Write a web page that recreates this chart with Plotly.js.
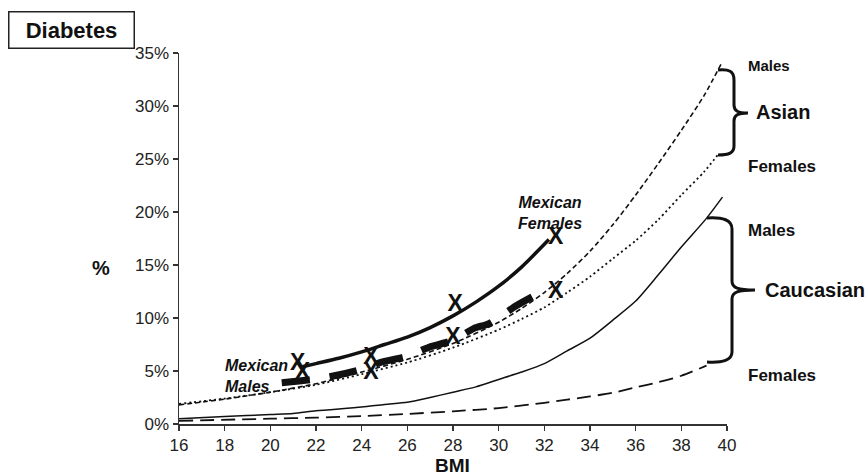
<!DOCTYPE html>
<html>
<head>
<meta charset="utf-8">
<script src="https://cdn.plot.ly/plotly-3.0.1.min.js"></script>
<style>
  html, body { margin: 0; padding: 0; background: #fff; }
  #chart { width: 868px; height: 476px; }
</style>
</head>
<body>
<div id="chart"></div>
<script>
// Diabetes prevalence (%) by BMI, by ethnic group and sex
var bmiTicks = [16, 18, 20, 22, 24, 26, 28, 30, 32, 34, 36, 38, 40];

var asianMaleBmi = [16, 18, 20, 22, 24, 26, 28, 30, 31, 32, 33, 34, 35, 36, 37, 38, 39, 39.8];
var asianMalePct = [1.8, 2.35, 3.0, 3.8, 4.9, 6.1, 7.6, 9.6, 10.9, 12.4, 14.2, 16.3, 18.8, 21.6, 24.6, 27.7, 31.0, 34.2];

var asianFemaleBmi = [16, 18, 20, 22, 24, 26, 28, 30, 31, 32, 33, 34, 35, 36, 37, 38, 39, 39.6];
var asianFemalePct = [1.9, 2.4, 3.0, 3.7, 4.7, 5.8, 7.2, 8.9, 9.9, 11.0, 12.4, 13.9, 15.6, 17.3, 19.3, 21.6, 23.8, 25.4];

var caucMaleBmi = [16, 18, 20, 21, 22, 24, 25, 26, 27, 28, 29, 30, 31, 32, 33, 34, 35, 36, 37, 38, 39.1, 39.8];
var caucMalePct = [0.5, 0.7, 0.9, 1.0, 1.25, 1.6, 1.85, 2.05, 2.5, 3.0, 3.5, 4.2, 4.9, 5.7, 6.9, 8.1, 9.8, 11.6, 14.1, 16.7, 19.4, 21.4];

var caucFemaleBmi = [16, 20, 22, 24, 26, 28, 30, 32, 33, 34, 35, 36, 37, 38, 39.1];
var caucFemalePct = [0.3, 0.5, 0.6, 0.75, 0.95, 1.2, 1.5, 2.0, 2.3, 2.6, 2.95, 3.45, 3.95, 4.55, 5.5];

var mexFemaleBmi = [21.4, 22, 23, 24, 25, 26, 27, 28, 29, 30, 31, 32.2];
var mexFemalePct = [5.4, 5.7, 6.2, 6.8, 7.5, 8.2, 9.1, 10.2, 11.5, 13.0, 14.8, 17.4];

var mexMaleBmi = [20.5, 21.8, 22.7, 23.9, 24.8, 26, 26.9, 28, 28.9, 29.6, 30.8, 31.9];
var mexMalePct = [3.9, 4.2, 4.5, 5.1, 5.8, 6.4, 7.2, 7.9, 9.0, 9.5, 11.2, 12.5];

// observed points (X) for the Mexican groups
var mexFemaleObsBmi = [21.2, 24.4, 28.1, 32.5];
var mexFemaleObsPct = [5.6, 6.2, 11.2, 17.5];
var mexMaleObsBmi = [21.4, 24.4, 28.0, 32.5];
var mexMaleObsPct = [4.8, 4.8, 8.1, 12.4];

var FONT = '"Liberation Sans", Arial, Helvetica, sans-serif';
var INK = '#111';

// plot area in pixels
var L = 179, T = 53, W = 548, H = 371;
function px(x) { return (x - L) / W; }
function py(y) { return (T + H - y) / H; }
function path(cmds) {
  // cmds: array of [letter, x1, y1, x2, y2, ...] in pixels -> paper path
  return cmds.map(function (c) {
    var s = c[0];
    for (var i = 1; i < c.length; i += 2) {
      s += (i > 1 ? ' ' : '') + px(c[i]).toFixed(5) + ',' + py(c[i + 1]).toFixed(5);
    }
    return s;
  }).join(' ');
}

function curve(x, y, dash, width, name) {
  return {
    type: 'scatter', mode: 'lines', x: x, y: y, name: name,
    line: { color: INK, width: width, dash: dash, shape: 'spline', smoothing: 0.7 },
    hoverinfo: 'skip', cliponaxis: false
  };
}
function marks(x, y, name) {
  return {
    type: 'scatter', mode: 'text', x: x, y: y, name: name,
    text: x.map(function () { return '<b>X</b>'; }),
    textposition: 'middle center',
    textfont: { family: FONT, size: 23, color: INK },
    hoverinfo: 'skip', cliponaxis: false
  };
}

var data = [
  curve(caucFemaleBmi, caucFemalePct, '14px,7px', 1.8, 'Caucasian Females'),
  curve(caucMaleBmi, caucMalePct, 'solid', 1.5, 'Caucasian Males'),
  curve(asianFemaleBmi, asianFemalePct, '2px,3px', 1.8, 'Asian Females'),
  curve(asianMaleBmi, asianMalePct, '5px,3px', 1.6, 'Asian Males'),
  curve(mexMaleBmi, mexMalePct, '28px,20px', 7, 'Mexican Males'),
  curve(mexFemaleBmi, mexFemalePct, 'solid', 3.5, 'Mexican Females'),
  marks(mexFemaleObsBmi, mexFemaleObsPct, 'Mexican Females observed'),
  marks(mexMaleObsBmi, mexMaleObsPct, 'Mexican Males observed')
];

function label(text, x, y, size, opts) {
  var a = {
    xref: 'paper', yref: 'paper', x: px(x), y: py(y), text: text, showarrow: false,
    xanchor: 'left', yanchor: 'middle', align: 'left',
    font: { family: FONT, size: size, color: INK, weight: 'bold' }
  };
  for (var k in (opts || {})) a[k] = opts[k];
  return a;
}

var annotations = [
  label('Diabetes', 71.5, 30, 22, {
    xanchor: 'center', align: 'center', width: 124, height: 35,
    bordercolor: '#222', borderwidth: 1.5, borderpad: 0, bgcolor: '#fff'
  }),
  label('%', 101, 268, 20, { xanchor: 'center' }),
  label('BMI', 452, 465, 19, { xanchor: 'center' }),
  label('<i>Mexican<br>Females</i>', 550, 213, 16, { xanchor: 'center', align: 'center' }),
  label('<i>Mexican<br>Males</i>', 223, 376, 16),
  label('Males', 746, 65, 15),
  label('Asian', 754, 112, 20),
  label('Females', 746, 166, 17),
  label('Males', 746, 230, 17),
  label('Caucasian', 763, 290, 20),
  label('Females', 746, 375, 17)
];

var shapes = [
  { type: 'path', xref: 'paper', yref: 'paper',
    line: { color: INK, width: 3 },
    path: path([
      ['M', 718, 70], ['C', 729, 69, 734, 71, 734, 80], ['L', 734, 105],
      ['C', 734, 111, 738, 113, 748, 113], ['C', 738, 113, 734, 115, 734, 121],
      ['L', 734, 146], ['C', 734, 153, 729, 155, 718, 155]
    ]) },
  { type: 'path', xref: 'paper', yref: 'paper',
    line: { color: INK, width: 3 },
    path: path([
      ['M', 707, 218], ['C', 723, 217, 732, 220, 732, 229], ['L', 732, 281],
      ['C', 732, 288, 738, 290, 755, 290], ['C', 738, 290, 732, 292, 732, 299],
      ['L', 732, 352], ['C', 732, 360, 723, 363, 707, 362]
    ]) }
];

var layout = {
  width: 868, height: 476,
  margin: { l: L, r: 868 - L - W, t: T, b: 476 - T - H, pad: 0 },
  paper_bgcolor: '#fff', plot_bgcolor: '#fff',
  showlegend: false,
  font: { family: FONT, color: INK },
  xaxis: {
    range: [16, 40], tickvals: bmiTicks, ticktext: bmiTicks.map(String),
    showgrid: false, zeroline: false, showline: true, linecolor: '#333', linewidth: 1.5,
    ticks: 'outside', ticklen: 5, tickwidth: 1.2, tickcolor: '#333',
    tickfont: { family: FONT, size: 17, color: '#222' }
  },
  yaxis: {
    range: [0, 35], dtick: 5, ticksuffix: '%',
    showgrid: false, zeroline: false, showline: true, linecolor: '#333', linewidth: 1.5,
    ticks: 'outside', ticklen: 5, tickwidth: 1.2, tickcolor: '#333',
    tickfont: { family: FONT, size: 17, color: '#222' }
  },
  annotations: annotations,
  shapes: shapes
};

Plotly.newPlot('chart', data, layout, { staticPlot: true, displayModeBar: false });
</script>
</body>
</html>
